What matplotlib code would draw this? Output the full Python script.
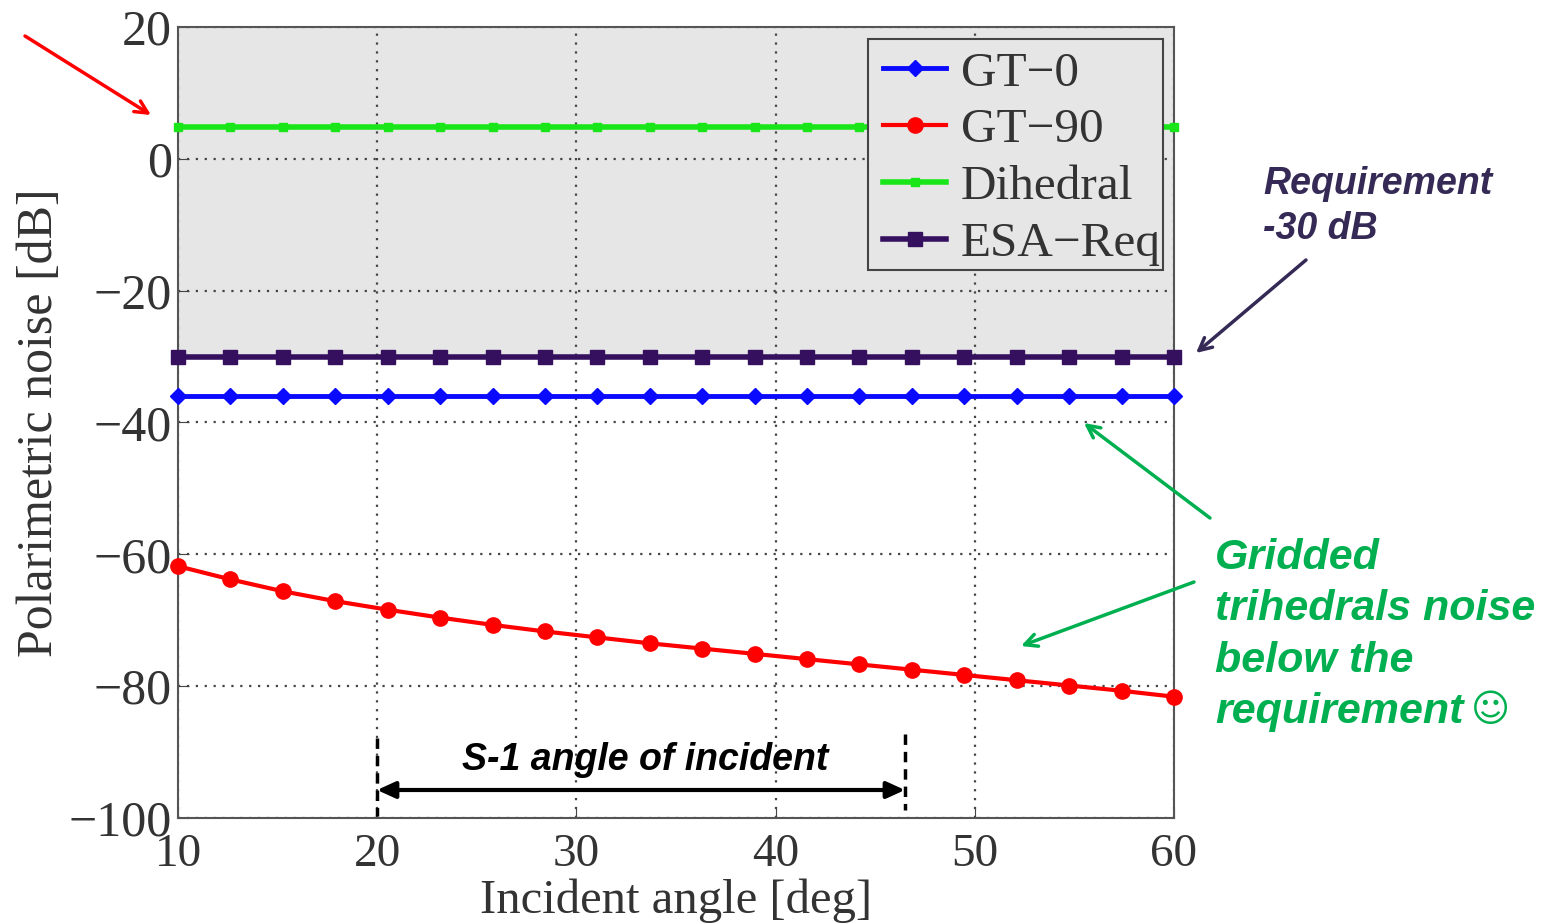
import matplotlib
matplotlib.use("Agg")
import matplotlib.pyplot as plt
from matplotlib.lines import Line2D
from matplotlib.patches import Rectangle

# values
angle = [10.0, 12.63, 15.26, 17.89, 20.53, 23.16, 25.79, 28.42, 31.05, 33.68,
         36.32, 38.95, 41.58, 44.21, 46.84, 49.47, 52.11, 54.74, 57.37, 60.0]
gt0 = [-36.0] * 20
gt90 = [-61.8, -63.8, -65.6, -67.1, -68.4, -69.6, -70.7, -71.7, -72.6, -73.5,
        -74.3, -75.1, -75.9, -76.7, -77.5, -78.3, -79.1, -79.9, -80.7, -81.6]
dihedral = [4.8] * 20
esa_req = [-30.0] * 20
x_ticks = [10, 20, 30, 40, 50, 60]
y_ticks = [20, 0, -20, -40, -60, -80, -100]

W, H = 1541, 924
fig = plt.figure(figsize=(W / 100, H / 100), dpi=100)
ax = fig.add_axes([178 / W, 1 - 818 / H, (1174 - 178) / W, (818 - 27) / H])

serif = "Liberation Serif"
sans = "Liberation Sans"

ax.set_xlim(10, 60)
ax.set_ylim(-100, 20)
ax.axhspan(-30, 20, color="#e6e6e6", zorder=0)
ax.set_xticks(x_ticks)
ax.set_yticks(y_ticks)
ax.set_xticklabels([str(t) for t in x_ticks], family=serif, fontsize=34)
ax.set_yticklabels([str(t).replace("-", "\u2212") for t in y_ticks], family=serif, fontsize=36)
ax.tick_params(direction="in", length=8, color="#444444", labelcolor="#333333")
ax.tick_params(axis="y", pad=4.5)
ax.tick_params(axis="x", pad=11)
ax.grid(True, color="#444444", linestyle=(0, (1, 3)), linewidth=1.6)
ax.set_axisbelow(True)
for s in ax.spines.values():
    s.set_color("#555555")
    s.set_linewidth(1.5)

ax.set_xlabel("Incident angle [deg]", family=serif, fontsize=35, color="#333333", labelpad=2)
ax.set_ylabel("Polarimetric noise [dB]", family=serif, fontsize=36, color="#333333", labelpad=0)
ax.yaxis.set_label_coords(-0.115, 0.5)

l1, = ax.plot(angle, gt0, color="#0a0aff", lw=3.5, marker="D", ms=8, clip_on=False, zorder=3)
l2, = ax.plot(angle, gt90, color="#ff0000", lw=3, marker="o", ms=11, clip_on=False, zorder=3)
l3, = ax.plot(angle, dihedral, color="#19e619", lw=4, marker="s", ms=6, clip_on=False, zorder=3)
l4, = ax.plot(angle, esa_req, color="#35105f", lw=4, marker="s", ms=10, clip_on=False, zorder=3)

# legend box drawn apart, its padding is uneven
ax.add_patch(Rectangle((868 / W, 1 - 270 / H), 295 / W, 231 / H, transform=fig.transFigure,
                       facecolor="#e6e6e6", edgecolor="#444444", lw=1.5, zorder=4.5))
leg = ax.legend([l1, l2, l3, l4], ["GT\u22120", "GT\u221290", "Dihedral", "ESA\u2212Req"],
                loc="upper left", bbox_to_anchor=(883 / W, 1 - 51 / H),
                bbox_transform=fig.transFigure, borderaxespad=0,
                prop={"family": serif, "size": 35.5}, frameon=False, handlelength=1.28,
                labelspacing=0.25, handletextpad=0.3, borderpad=0, labelcolor="#333333")
leg.set_zorder(5)


def px(x, y):
    return x / W, 1 - y / H


def arrow(start, end, color, lw=2.5, style="->,head_length=0.9,head_width=0.45"):
    ax.annotate("", xy=px(*end), xytext=px(*start), xycoords="figure fraction",
                textcoords="figure fraction", annotation_clip=False, zorder=6,
                arrowprops=dict(arrowstyle=style, color=color, lw=lw,
                                shrinkA=0, shrinkB=0))


arrow((25, 36), (151, 115), "#ff0000")
arrow((1306, 260), (1196, 353), "#352a55")
arrow((1210, 518), (1084, 423), "#00b050")
arrow((1194, 582), (1021, 646), "#00b050")

# S-1 incidence range
fig.add_artist(Line2D([377 / W, 377 / W], [1 - 738 / H, 1 - 816 / H], color="black", lw=2.5, ls=(0, (3, 2))))
fig.add_artist(Line2D([905 / W, 905 / W], [1 - 734 / H, 1 - 810 / H], color="black", lw=2.5, ls=(0, (3, 2))))
arrow((377, 790), (905, 790), "black", lw=3, style="<|-|>,head_length=1.1,head_width=0.5")

fig.text(645 / W, 1 - 760 / H, "S-1 angle of incident", family=sans, fontsize=27, weight="bold",
         style="italic", color="black", ha="center", va="center")
fig.text(1263 / W, 1 - 184 / H, "Requirement", family=sans, fontsize=27, weight="bold",
         style="italic", color="#352a55", va="center")
fig.text(1263 / W, 1 - 229 / H, "-30 dB", family=sans, fontsize=27, weight="bold",
         style="italic", color="#352a55", va="center")
for i, line in enumerate(["Gridded", "trihedrals noise", "below the", "requirement"]):
    fig.text(1215 / W, 1 - (558 + i * 51.5) / H, line, family=sans, fontsize=31,
             weight="bold", style="italic", color="#00b050", va="center")
fig.text(1490 / W, 1 - 711 / H, "\u263a", family="DejaVu Sans", fontsize=27,
         color="#00b050", ha="center", va="center")

fig.savefig("out.png", dpi=100)
